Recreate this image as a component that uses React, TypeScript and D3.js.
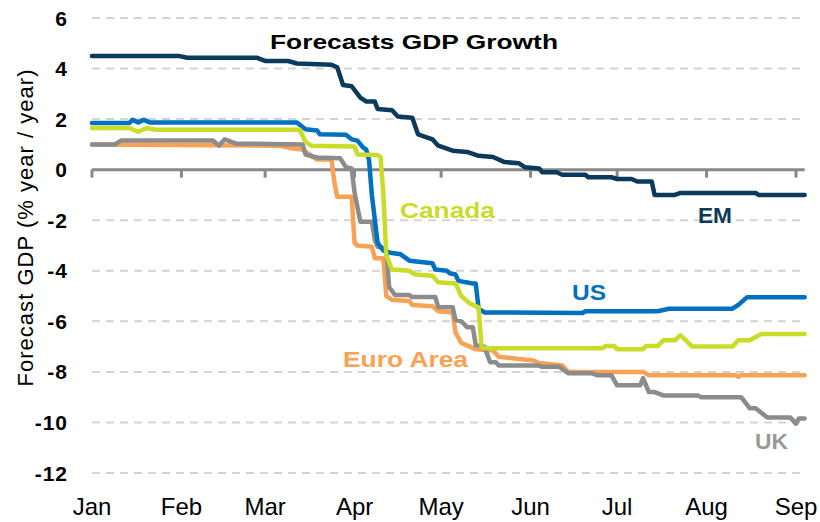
import React, { useEffect, useRef } from "react";
import * as d3 from "d3";

type Pt = [string, number];

const monthLabels = ["Jan", "Feb", "Mar", "Apr", "May", "Jun", "Jul", "Aug", "Sep"];
const yTicks = [6, 4, 2, 0, -2, -4, -6, -8, -10, -12];

const emSeries: Pt[] = [
  ["01-01", 4.5], ["01-31", 4.5], ["02-03", 4.43], ["02-27", 4.43], ["03-01", 4.3], ["03-09", 4.3],
  ["03-12", 4.2], ["03-24", 4.15], ["03-26", 4.05], ["03-28", 3.35], ["03-31", 3.3], ["04-03", 2.85],
  ["04-05", 2.7], ["04-08", 2.7], ["04-09", 2.4], ["04-14", 2.35], ["04-16", 2.1], ["04-21", 2.05],
  ["04-23", 1.4], ["04-28", 1.2], ["04-30", 0.95], ["05-05", 0.75], ["05-10", 0.7], ["05-14", 0.55],
  ["05-19", 0.5], ["05-23", 0.3], ["05-28", 0.25], ["05-30", 0.1], ["06-04", 0.05], ["06-05", -0.1],
  ["06-10", -0.1], ["06-12", -0.2], ["06-20", -0.2], ["06-21", -0.3], ["06-29", -0.3], ["07-01", -0.37],
  ["07-06", -0.37], ["07-08", -0.47], ["07-13", -0.47], ["07-14", -1.0], ["07-21", -1.0], ["07-23", -0.92],
  ["08-18", -0.92], ["08-19", -1.0], ["09-04", -1.0],
];

const usSeries: Pt[] = [
  ["01-01", 1.85], ["01-14", 1.85], ["01-15", 1.97], ["01-17", 1.87], ["01-19", 1.97], ["01-21", 1.87],
  ["03-12", 1.87], ["03-15", 1.6], ["03-19", 1.55], ["03-20", 1.4], ["03-29", 1.38], ["03-31", 1.2],
  ["04-02", 1.15], ["04-04", 0.87], ["04-05", 0.8], ["04-06", 0.4], ["04-07", -1.0], ["04-09", -2.9],
  ["04-11", -3.2], ["04-14", -3.3], ["04-17", -3.35], ["04-20", -3.6], ["04-28", -3.7], ["04-29", -3.95],
  ["05-03", -4.0], ["05-04", -4.1], ["05-06", -4.15], ["05-07", -4.4], ["05-12", -4.5], ["05-13", -4.5],
  ["05-14", -5.5], ["05-16", -5.65], ["06-19", -5.67], ["06-20", -5.6], ["07-15", -5.6], ["07-19", -5.5],
  ["08-10", -5.5], ["08-12", -5.35], ["08-15", -5.05], ["09-04", -5.05],
];

const canadaSeries: Pt[] = [
  ["01-01", 1.65], ["01-14", 1.65], ["01-17", 1.5], ["01-20", 1.65], ["01-23", 1.58], ["03-13", 1.58],
  ["03-15", 1.1], ["03-17", 0.95], ["04-01", 0.92], ["04-02", 0.6], ["04-09", 0.58], ["04-10", 0.5],
  ["04-11", -1.0], ["04-12", -3.4], ["04-14", -3.95], ["04-20", -4.0], ["04-22", -4.15], ["04-28", -4.2],
  ["04-30", -4.45], ["05-06", -4.5], ["05-08", -5.0], ["05-11", -5.3], ["05-14", -5.45], ["05-15", -7.0],
  ["05-16", -7.06], ["06-26", -7.06], ["06-27", -6.98], ["06-30", -6.98], ["07-01", -7.1], ["07-10", -7.1],
  ["07-11", -6.98], ["07-15", -6.98], ["07-17", -6.75], ["07-21", -6.75], ["07-23", -6.55], ["07-27", -7.0],
  ["08-10", -7.0], ["08-12", -6.75], ["08-16", -6.75], ["08-18", -6.62], ["08-20", -6.5], ["09-04", -6.5],
];

const euroSeries: Pt[] = [
  ["01-01", 1.0], ["03-06", 0.95], ["03-10", 0.85], ["03-14", 0.8], ["03-17", 0.55], ["03-19", 0.4],
  ["03-24", 0.4], ["03-25", -0.5], ["03-26", -1.07], ["03-31", -1.07], ["04-01", -2.9], ["04-02", -3.0],
  ["04-07", -3.05], ["04-08", -3.5], ["04-11", -3.5], ["04-12", -5.0], ["04-14", -5.15], ["04-20", -5.2],
  ["04-21", -5.35], ["04-28", -5.4], ["04-30", -5.6], ["05-05", -5.65], ["05-06", -6.45], ["05-08", -6.85],
  ["05-13", -7.1], ["05-19", -7.15], ["05-21", -7.4], ["06-02", -7.55], ["06-04", -7.65], ["06-12", -7.75],
  ["06-14", -8.0], ["07-10", -8.0], ["07-12", -8.13], ["08-11", -8.13], ["08-12", -8.2], ["08-13", -8.13],
  ["09-04", -8.13],
];

const ukSeries: Pt[] = [
  ["01-01", 1.0], ["01-09", 1.0], ["01-11", 1.15], ["02-12", 1.15], ["02-14", 0.95], ["02-16", 1.2],
  ["02-20", 1.03], ["03-14", 1.0], ["03-15", 0.6], ["03-19", 0.48], ["03-27", 0.45], ["03-29", 0.1],
  ["03-31", 0.05], ["04-01", -0.9], ["04-03", -2.06], ["04-07", -2.06], ["04-08", -2.78], ["04-09", -3.05],
  ["04-11", -3.1], ["04-12", -3.2], ["04-13", -4.64], ["04-15", -4.96], ["04-20", -4.96], ["04-21", -5.04],
  ["04-29", -5.04], ["04-30", -5.44], ["05-05", -5.44], ["05-06", -5.95], ["05-08", -6.0], ["05-10", -6.23],
  ["05-12", -6.23], ["05-13", -6.94], ["05-16", -7.0], ["05-18", -7.62], ["05-20", -7.62], ["05-21", -7.75],
  ["06-04", -7.75], ["06-05", -7.8], ["06-11", -7.8], ["06-14", -8.05], ["06-22", -8.05], ["06-24", -8.13],
  ["06-29", -8.13], ["07-01", -8.53], ["07-09", -8.53], ["07-10", -8.25], ["07-12", -8.8], ["07-14", -8.8],
  ["07-17", -8.93], ["07-29", -8.93], ["07-30", -9.0], ["08-13", -9.0], ["08-16", -9.44], ["08-18", -9.44],
  ["08-22", -9.8], ["08-30", -9.8], ["09-01", -10.05], ["09-02", -9.84], ["09-04", -9.84],
];

// drawing order: later ones on top
const series = [
  { name: "Euro Area", data: euroSeries, color: "#f9a256", label: { x: 343, y: 367, w: 125 } },
  { name: "UK", data: ukSeries, color: "#8c8c8c", label: { x: 755, y: 449, w: 33 } },
  { name: "US", data: usSeries, color: "#0070c0", label: { x: 572, y: 300, w: 34 } },
  { name: "Canada", data: canadaSeries, color: "#c8dc28", label: { x: 400, y: 218, w: 95 } },
  { name: "EM", data: emSeries, color: "#0b3a5c", label: { x: 698, y: 223, w: 34 } },
];

const parse = d3.timeParse("%Y-%m-%d");
const toDate = (s: string) => parse("2020-" + s) as Date;

const App = () => {
  const svgRef = useRef<SVGSVGElement>(null);

  useEffect(() => {
    const width = 820;
    const height = 522;
    const svg = d3.select(svgRef.current);
    svg.selectAll("*").remove();
    svg.attr("width", width).attr("height", height);

    const x = d3
      .scaleTime()
      .domain([toDate("01-01"), toDate("09-01")])
      .range([92, 796]);
    const y = d3.scaleLinear().domain([-12, 6]).range([473, 18]);
    const xEnd = x(toDate("09-04"));

    // gridlines
    svg
      .append("g")
      .selectAll("line")
      .data(yTicks.filter((t) => t !== 0))
      .join("line")
      .attr("x1", 92)
      .attr("x2", xEnd)
      .attr("y1", (d) => y(d))
      .attr("y2", (d) => y(d))
      .attr("stroke", "#d4d4d4")
      .attr("stroke-width", 2)
      .attr("stroke-dasharray", "8,6");

    // y labels
    svg
      .append("g")
      .selectAll("text")
      .data(yTicks)
      .join("text")
      .attr("x", 68)
      .attr("y", (d) => y(d))
      .attr("dy", "0.36em")
      .attr("text-anchor", "end")
      .attr("font-family", "Liberation Sans, Arial, sans-serif")
      .attr("font-weight", "bold")
      .attr("font-size", 21)
      .attr("letter-spacing", 1)
      .attr("fill", "#000")
      .text((d) => String(d));

    // zero axis with month ticks
    const months = d3.timeMonth.range(toDate("01-01"), toDate("09-02"));
    svg
      .append("line")
      .attr("x1", 92)
      .attr("x2", xEnd)
      .attr("y1", y(0))
      .attr("y2", y(0))
      .attr("stroke", "#898989")
      .attr("stroke-width", 3);
    svg
      .append("g")
      .selectAll("line")
      .data(months)
      .join("line")
      .attr("x1", (d) => x(d))
      .attr("x2", (d) => x(d))
      .attr("y1", y(0))
      .attr("y2", y(0) + 8)
      .attr("stroke", "#898989")
      .attr("stroke-width", 3);

    svg
      .append("g")
      .selectAll("text")
      .data(months)
      .join("text")
      .attr("x", (d) => x(d))
      .attr("y", 515)
      .attr("text-anchor", "middle")
      .attr("font-family", "Liberation Sans, Arial, sans-serif")
      .attr("font-size", 24)
      .attr("fill", "#000")
      .text((d, i) => monthLabels[i]);

    // lines
    const line = d3
      .line<Pt>()
      .x((d) => x(toDate(d[0])))
      .y((d) => y(d[1]));

    series.forEach((s) => {
      svg
        .append("path")
        .datum(s.data)
        .attr("d", line)
        .attr("fill", "none")
        .attr("stroke", s.color)
        .attr("stroke-width", 4.5)
        .attr("stroke-linejoin", "round")
        .attr("stroke-linecap", "round");
    });

    series.forEach((s) => {
      svg
        .append("text")
        .attr("x", s.label.x)
        .attr("y", s.label.y)
        .attr("font-family", "Liberation Sans, Arial, sans-serif")
        .attr("font-weight", "bold")
        .attr("font-size", 22)
        .attr("textLength", s.label.w)
        .attr("lengthAdjust", "spacingAndGlyphs")
        .attr("fill", s.name === "UK" ? "#999999" : s.color)
        .text(s.name);
    });

    // title
    svg
      .append("text")
      .attr("x", 270)
      .attr("y", 49)
      .attr("font-family", "Liberation Sans, Arial, sans-serif")
      .attr("font-weight", "bold")
      .attr("font-size", 21)
      .attr("textLength", 288)
      .attr("lengthAdjust", "spacingAndGlyphs")
      .attr("fill", "#000")
      .text("Forecasts GDP Growth");

    // y axis title
    svg
      .append("text")
      .attr("transform", "translate(33,228) rotate(-90)")
      .attr("text-anchor", "middle")
      .attr("font-family", "Liberation Sans, Arial, sans-serif")
      .attr("font-size", 22)
      .attr("textLength", 317)
      .attr("lengthAdjust", "spacing")
      .attr("fill", "#000")
      .text("Forecast GDP (% year / year)");
  }, []);

  return (
    <svg
      ref={svgRef}
      style={{ position: "absolute", left: 0, top: 0, background: "#fff" }}
    ></svg>
  );
};

export default App;
